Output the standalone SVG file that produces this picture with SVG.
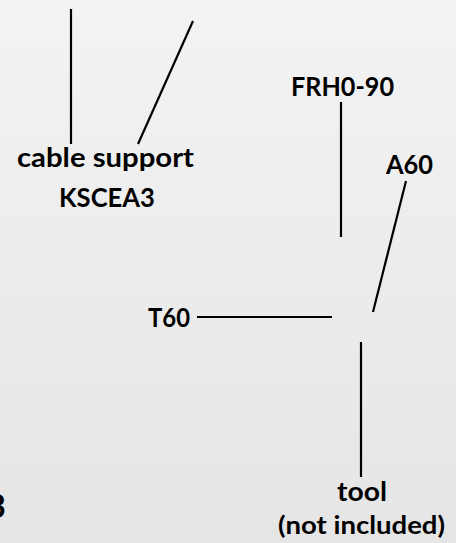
<svg xmlns="http://www.w3.org/2000/svg" width="456" height="543" viewBox="0 0 456 543">
<defs>
<linearGradient id="bg" x1="0" y1="0" x2="0" y2="1">
<stop offset="0" stop-color="#f3f3f3"/>
<stop offset="1" stop-color="#e5e5e5"/>
</linearGradient>
</defs>
<style>
text{font-family:Lato,"Open Sans","Liberation Sans",sans-serif;font-weight:bold;fill:#000;text-anchor:middle}
.l{font-size:27.5px}
.s{font-size:24.5px}
.c line{stroke:#000;stroke-width:2.2;fill:none}
</style>
<rect width="456" height="543" fill="url(#bg)"/>
<g class="c" id="connectors">
<line x1="71" y1="9" x2="71" y2="144"/>
<line x1="193" y1="21" x2="138" y2="144"/>
<line x1="341" y1="102" x2="341" y2="237"/>
<line x1="406" y1="181" x2="373" y2="312"/>
<line x1="197" y1="317" x2="332" y2="317"/>
<line x1="361" y1="342" x2="361" y2="477"/>
</g>
<g id="cable-support"><text class="l" x="105.5" y="167" textLength="177" lengthAdjust="spacingAndGlyphs">cable support</text><text class="l" x="107" y="207" textLength="96" lengthAdjust="spacingAndGlyphs">KSCEA3</text></g>
<g id="frh"><text class="l" x="342.5" y="96" textLength="103" lengthAdjust="spacingAndGlyphs">FRH0-90</text></g>
<g id="a60"><text class="l" x="409.5" y="174" textLength="47" lengthAdjust="spacingAndGlyphs">A60</text></g>
<g id="t60"><text class="l" x="169" y="327" textLength="42" lengthAdjust="spacingAndGlyphs">T60</text></g>
<g id="tool"><text class="l" x="362" y="501" textLength="50" lengthAdjust="spacingAndGlyphs">tool</text><text class="s" x="361.5" y="534" textLength="167" lengthAdjust="spacingAndGlyphs">(not included)</text></g>
<g id="num"><text class="l" style="font-size:33px;text-anchor:end" x="6" y="518">3</text></g>
</svg>
